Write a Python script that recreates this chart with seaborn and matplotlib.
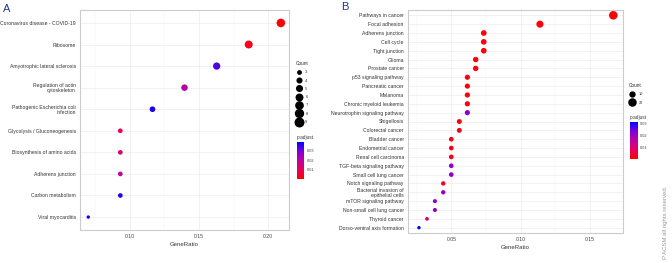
import numpy as np
import pandas as pd
import matplotlib
matplotlib.use("Agg")
import matplotlib.pyplot as plt
import seaborn as sns
from matplotlib.colors import LinearSegmentedColormap, Normalize
from matplotlib.lines import Line2D
from matplotlib.ticker import MultipleLocator

# ---- data panel A ----
terms_a = ["Coronavirus disease - COVID-19", "Ribosome", "Amyotrophic lateral sclerosis",
           "Regulation of actin\ncytoskeleton", "Pathogenic Escherichia coli\ninfection",
           "Glycolysis / Gluconeogenesis", "Biosynthesis of amino acids", "Adherens junction",
           "Carbon metabolism", "Viral myocarditis"]
ratio_a = [0.2093, 0.1860, 0.1628, 0.1395, 0.1163, 0.0930, 0.0930, 0.0930, 0.0930, 0.0698]
count_a = [9, 8, 7, 6, 5, 4, 4, 4, 4, 3]
padj_a = [0.001, 0.003, 0.033, 0.021, 0.037, 0.010, 0.012, 0.018, 0.036, 0.038]

# ---- data panel B ----
terms_b = ["Pathways in cancer", "Focal adhesion", "Adherens junction", "Cell cycle",
           "Tight junction", "Glioma", "Prostate cancer", "p53 signaling pathway",
           "Pancreatic cancer", "Melanoma", "Chronic myeloid leukemia",
           "Neurotrophin signaling pathway", "Shigellosis", "Colorectal cancer",
           "Bladder cancer", "Endometrial cancer", "Renal cell carcinoma",
           "TGF-beta signaling pathway", "Small cell lung cancer", "Notch signaling pathway",
           "Bacterial invasion of\nepithelial cells", "mTOR signaling pathway",
           "Non-small cell lung cancer", "Thyroid cancer", "Dorso-ventral axis formation"]
ratio_b = [0.1668, 0.1139, 0.0734, 0.0734, 0.0734, 0.0676, 0.0676, 0.0616, 0.0616, 0.0616,
           0.0616, 0.0616, 0.0558, 0.0558, 0.0500, 0.0500, 0.0500, 0.0500, 0.0500, 0.0442,
           0.0442, 0.0382, 0.0382, 0.0325, 0.0267]
count_b = [29, 20, 13, 13, 13, 12, 12, 11, 11, 11, 11, 11, 10, 10, 9, 9, 9, 9, 9, 8, 8,
           7, 7, 6, 5]
padj_b = [0.0005, 0.0008, 0.001, 0.001, 0.001, 0.001, 0.001, 0.001, 0.001, 0.001, 0.001,
          0.022, 0.001, 0.002, 0.002, 0.002, 0.002, 0.021, 0.021, 0.003, 0.021, 0.021,
          0.021, 0.009, 0.031]

cmap = LinearSegmentedColormap.from_list(
    "padj", ["#FF0000", "#E8005E", "#BE00A0", "#8000D8", "#0000FF"])

sns.set_theme(style="white")
plt.rcParams["font.family"] = ["Liberation Sans", "DejaVu Sans"]

fig = plt.figure(figsize=(6.72, 2.63), dpi=100)
W, H = 672, 263


def px_axes(x0, y0, x1, y1):
    return fig.add_axes([x0 / W, 1 - y1 / H, (x1 - x0) / W, (y1 - y0) / H])


def dot_panel(ax, terms, ratio, count, padj, smin_c, smax_c, vmax, xlim, xticks):
    df = pd.DataFrame({"term": terms, "GeneRatio": ratio, "Count": count, "padj": padj})
    df["y"] = np.arange(len(df))
    sns.scatterplot(data=df, x="GeneRatio", y="y", hue="padj", palette=cmap,
                    hue_norm=(0, vmax), size="Count", sizes=(6, 38),
                    size_norm=(smin_c, smax_c), linewidth=0, legend=False, ax=ax, zorder=3)
    ax.set_ylim(len(df) - 0.4, -0.6)
    ax.set_xlim(*xlim)
    ax.set_yticks(df["y"])
    ax.set_yticklabels(terms, fontsize=3.7, color="#333333", linespacing=0.95)
    ax.set_xticks(xticks)
    ax.set_xticklabels([f"{t:.2f}" for t in xticks], fontsize=3.7, color="#444444")
    ax.xaxis.set_minor_locator(MultipleLocator(0.025))
    ax.grid(True, which="major", color="#EBEBEB", linewidth=0.5)
    ax.grid(True, which="minor", axis="x", color="#F3F3F3", linewidth=0.3)
    ax.set_axisbelow(True)
    for s in ax.spines.values():
        s.set_color("#CCCCCC")
        s.set_linewidth(0.8)
    ax.tick_params(axis="both", which="major", length=2, width=0.4, color="#555555", pad=1)
    ax.tick_params(axis="both", which="minor", length=0)
    ax.set_xlabel("GeneRatio", fontsize=4.3, color="#333333", labelpad=2)
    ax.set_ylabel("")


def size_of(c, cmin, cmax):
    return 6 + (c - cmin) / (cmax - cmin) * 32


# ---- panel A ----
axA = px_axes(80, 10, 289, 230)
dot_panel(axA, terms_a, ratio_a, count_a, padj_a, 3, 9, 0.039, (0.0638, 0.2152),
          [0.10, 0.15, 0.20])

# ---- panel B ----
axB = px_axes(408, 10, 623, 233)
dot_panel(axB, terms_b, ratio_b, count_b, padj_b, 5, 29, 0.031, (0.0188, 0.1738),
          [0.05, 0.10, 0.15])

# ---- size legends ----
handles_a = [Line2D([], [], marker="o", linestyle="", color="black",
                    markersize=np.sqrt(size_of(c, 3, 9)), label=str(c)) for c in range(3, 10)]
legA = fig.legend(handles=handles_a, title="Count", loc="upper left",
                  bbox_to_anchor=(296 / W, 1 - 61 / H), frameon=False, fontsize=2.8,
                  title_fontsize=3.4, labelspacing=1.1, handletextpad=0.8,
                  handlelength=1.6, borderaxespad=0, borderpad=0)
legA._legend_box.align = "left"

handles_b = [Line2D([], [], marker="o", linestyle="", color="black",
                    markersize=np.sqrt(size_of(c, 5, 29)), label=str(c)) for c in (10, 20)]
legB = fig.legend(handles=handles_b, title="Count", loc="upper left",
                  bbox_to_anchor=(629 / W, 1 - 83 / H), frameon=False, fontsize=2.8,
                  title_fontsize=3.4, labelspacing=1.1, handletextpad=0.8,
                  handlelength=1.6, borderaxespad=0, borderpad=0)
legB._legend_box.align = "left"

# ---- colorbars ----
for (x0, y0, x1, y1, vmax, tx, ty) in [(297, 142, 304, 179, 0.039, 297, 139),
                                       (630, 122, 637.5, 159, 0.031, 630, 119)]:
    cax = px_axes(x0, y0, x1, y1)
    sm = plt.cm.ScalarMappable(norm=Normalize(0, vmax), cmap=cmap)
    cb = fig.colorbar(sm, cax=cax, ticks=[0.01, 0.02, 0.03])
    cb.outline.set_visible(False)
    cb.ax.tick_params(labelsize=2.8, length=0, pad=2, labelcolor="#444444")
    cb.ax.set_yticklabels(["0.01", "0.02", "0.03"])
    fig.text(tx / W, 1 - ty / H, "p.adjust", fontsize=3.4, color="#333333",
             ha="left", va="baseline")

# ---- panel labels & watermark ----
fig.text(3 / W, 1 - 12 / H, "A", fontsize=8, color="#1F3C88", ha="left", va="baseline")
fig.text(341 / W, 1 - 10 / H, "B", fontsize=8, color="#1F3C88", ha="left", va="baseline")
fig.text(665 / W, 1 - 222 / H, "P ACSM all rights reserved.", fontsize=4.3,
         color="#999999", rotation=90, ha="center", va="center")

fig.savefig("out.png", dpi=100)
